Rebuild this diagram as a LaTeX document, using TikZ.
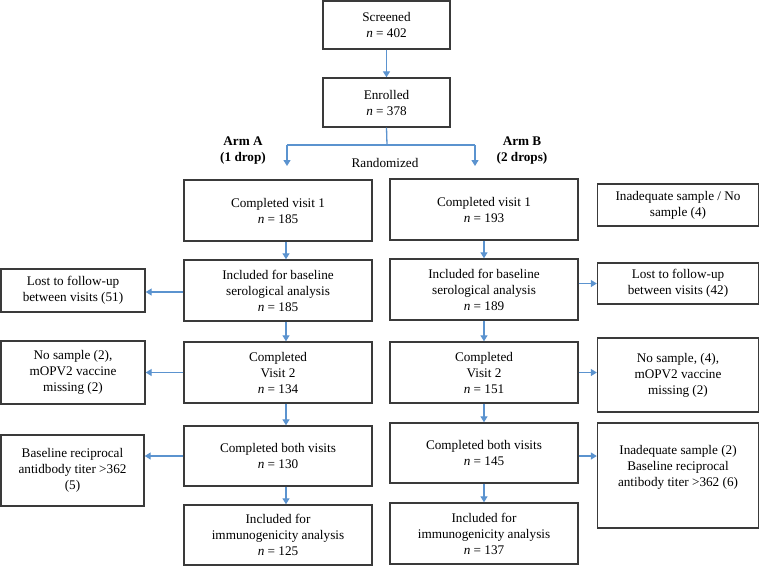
\documentclass[tikz,border=0pt]{standalone}
\usepackage{fontspec}
\setmainfont{Liberation Serif}
\usetikzlibrary{arrows.meta}
\definecolor{boxline}{HTML}{3A3A3A}
\definecolor{arrowblue}{HTML}{5B93CF}
\newcommand\txtfont{\fontsize{13.2}{16}\selectfont}
\begin{document}
\begin{tikzpicture}[x=1pt,y=-1pt,
 box/.style={draw=boxline, line width=1.4pt, align=center, inner sep=0pt, font=\txtfont},
 arr/.style={draw=arrowblue, line width=1.3pt, -{Triangle[width=7pt,length=6pt]}},
 lab/.style={align=center, inner sep=0pt, font=\txtfont}]
\useasboundingbox[fill=white] (0,0) rectangle (760,566);
% top
\node[box, minimum width=127pt, minimum height=48pt] (scr) at (386.5,25) {Screened\\\textit{n} = 402};
\node[box, minimum width=127pt, minimum height=49pt] (enr) at (386.5,102.5) {Enrolled\\\textit{n} = 378};
% arms
\node[lab, font=\bfseries\txtfont] (armA) at (243,151) {Arm A\\(1 drop)};
\node[lab, font=\bfseries\txtfont] (armB) at (522,151) {Arm B\\(2 drops)};
\node[lab] (rand) at (385,163) {Randomized};
% arm A column
\node[box, minimum width=188pt, minimum height=61pt] (a1) at (278,210.5) {Completed visit 1\\\textit{n} = 185};
\node[box, minimum width=188pt, minimum height=61pt] (a2) at (278,290.5) {Included for baseline\\serological analysis\\\textit{n} = 185};
\node[box, minimum width=188pt, minimum height=61pt] (a3) at (278,372.5) {Completed\\Visit 2\\\textit{n} = 134};
\node[box, minimum width=188pt, minimum height=60pt] (a4) at (278,456) {Completed both visits\\\textit{n} = 130};
\node[box, minimum width=188pt, minimum height=60pt] (a5) at (278,535) {Included for\\immunogenicity analysis\\\textit{n} = 125};
% arm B column
\node[box, minimum width=188pt, minimum height=61pt] (b1) at (484,209.5) {Completed visit 1\\\textit{n} = 193};
\node[box, minimum width=188pt, minimum height=61pt] (b2) at (484,289.5) {Included for baseline\\serological analysis\\\textit{n} = 189};
\node[box, minimum width=188pt, minimum height=61pt] (b3) at (484,372.5) {Completed\\Visit 2\\\textit{n} = 151};
\node[box, minimum width=188pt, minimum height=60pt] (b4) at (484,453) {Completed both visits\\\textit{n} = 145};
\node[box, minimum width=188pt, minimum height=61pt] (b5) at (484,533.5) {Included for\\immunogenicity analysis\\\textit{n} = 137};
% left exclusions
\node[box, minimum width=144pt, minimum height=43pt] (lostA) at (73,290.5) {Lost to follow-up\\between visits (51)};
\node[box, minimum width=144pt, minimum height=63pt] (nsA) at (73,372.5) {No sample (2),\\mOPV2 vaccine\\missing (2)};
\node[box, minimum width=143pt, minimum height=71pt] (baseA) at (72.5,470.5) {Baseline reciprocal\\antidbody titer >362\\(5)};
% right exclusions
\node[box, minimum width=161pt, minimum height=42pt] (inad) at (678,205) {Inadequate sample / No\\sample (4)};
\node[box, minimum width=161pt, minimum height=41pt] (lostB) at (678,283.5) {Lost to follow-up\\between visits (42)};
\node[box, minimum width=161pt, minimum height=74pt] (nsB) at (678,375) {No sample, (4),\\mOPV2 vaccine\\missing (2)};
\node[box, minimum width=161pt, minimum height=105pt] (inadB) at (678,475.5) {};
\node[lab] (inadBtext) at (678,467.5) {Inadequate sample (2)\\Baseline reciprocal\\antibody titer >362 (6)};
% connectors
\coordinate (split) at (387,145);
\coordinate (splA) at (287,145);
\coordinate (splB) at (475,145);
\coordinate (endA) at (287,166);
\coordinate (endB) at (475,166);
\draw[arr] (scr.south) -- (enr.north);
\draw[draw=arrowblue, line width=1.3pt] (enr.south) -- (split);
\draw[draw=arrowblue, line width=1.3pt] (splA) -- (splB);
\draw[arr] (splA) -- (endA);
\draw[arr] (splB) -- (endB);
\draw[arr] ([xshift=8pt]a1.south) -- ([xshift=8pt]a2.north);
\draw[arr] ([xshift=8pt]a2.south) -- ([xshift=8pt]a3.north);
\draw[arr] ([xshift=8pt]a3.south) -- ([xshift=8pt]a4.north);
\draw[arr] ([xshift=8pt]a4.south) -- ([xshift=8pt]a5.north);
\draw[arr] (b1.south) -- (b2.north);
\draw[arr] (b2.south) -- (b3.north);
\draw[arr] (b3.south) -- (b4.north);
\draw[arr] (b4.south) -- (b5.north);
\draw[arr] ([yshift=-1.5pt]a2.west) -- ([yshift=-1.5pt]a2.west -| lostA.east);
\draw[arr] (a3.west) -- (a3.west -| nsA.east);
\draw[arr] (a4.west) -- (a4.west -| baseA.east);
\draw[arr] (b2.east |- lostB.west) -- (lostB.west);
\draw[arr] (b3.east) -- (b3.east -| nsB.west);
\draw[arr] ([yshift=-3pt]b4.east) -- ([yshift=-3pt]b4.east -| inadB.west);
\end{tikzpicture}
\end{document}
